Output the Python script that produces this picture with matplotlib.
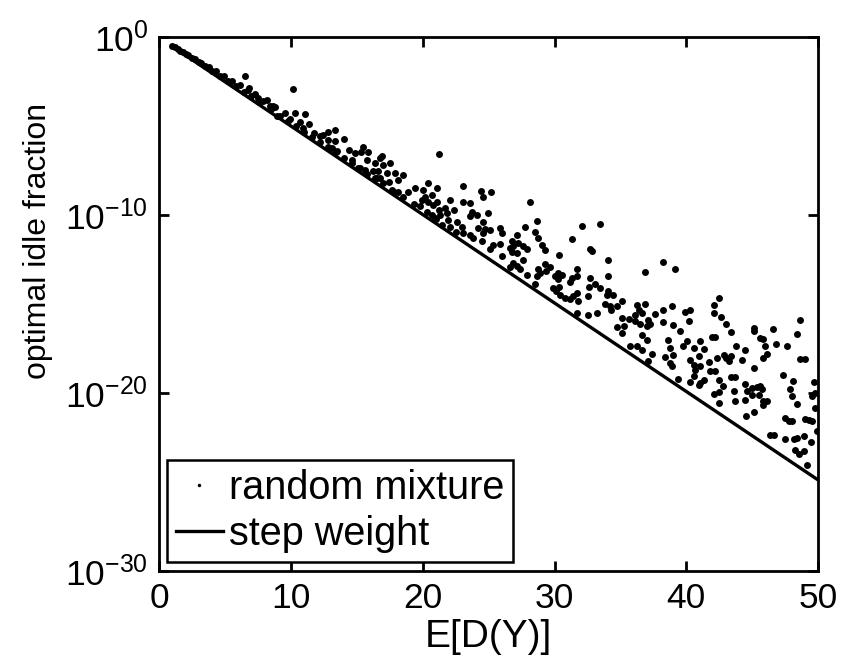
import numpy as np
import matplotlib
matplotlib.use("Agg")
import matplotlib.pyplot as plt

plt.rcParams['font.family'] = ['Liberation Sans', 'DejaVu Sans']
plt.rcParams['mathtext.fontset'] = 'custom'
plt.rcParams['mathtext.rm'] = 'Liberation Sans'
plt.rcParams['mathtext.it'] = 'Liberation Sans:italic'

# step weight curve (log10 of idle fraction at the two ends)
step_x = [1, 50]
step_exp = [-0.55, -24.9]

# random mixture points: E[D(Y)] and log10(optimal idle fraction)
x_a = [1.0, 1.2, 1.4, 1.6, 1.8, 2.0, 2.2, 2.5, 2.7, 3.0, 3.2, 3.5, 3.8, 4.0, 4.3,
       4.6, 4.9, 5.2, 5.5, 5.8, 6.1, 6.4, 6.7, 7.0, 7.3, 7.6, 7.9, 8.2, 8.5, 8.8,
       6.52, 6.78, 7.52, 8.4]
e_a = [-0.50, -0.60, -0.67, -0.80, -0.85, -0.98, -1.02, -1.21, -1.24, -1.44, -1.46, -1.67, -1.72, -1.94, -1.94,
       -2.19, -2.19, -2.51, -2.48, -2.75, -2.73, -3.08, -2.98, -3.33, -3.23, -3.68, -3.63, -3.58, -4.07, -3.97,
       -2.23, -2.89, -3.46, -3.92]

x_b = [10.13, 8.61, 9.55, 10.3, 11.06, 8.91, 9.92, 10.68, 11.39, 10.93, 12.83, 13.34, 11.71, 12.2, 12.45,
       12.83, 13.34, 14.02, 13.09, 13.47, 14.43, 14.86, 15.49, 15.3, 15.87, 14.61, 15.75, 15.11, 15.62, 16.25,
       16.5, 16.76,
       9.2, 9.8, 10.4, 11.0, 11.6, 12.2, 12.8, 13.4, 14.0, 14.6, 15.2, 15.8, 16.4]
e_b = [-2.96, -3.88, -4.29, -4.29, -4.33, -4.48, -4.64, -4.77, -4.90, -5.14, -5.33, -5.22, -5.41, -5.6, -5.5,
       -5.79, -5.88, -5.75, -6.26, -6.44, -6.39, -6.55, -6.21, -6.5, -6.5, -6.93, -6.95, -7.38, -7.48, -7.57,
       -7.96, -6.82,
       -4.45, -4.75, -5.0, -5.35, -5.62, -5.92, -6.2, -6.5, -6.8, -7.1, -7.4, -7.7, -7.95]

x_c = [21.27, 16.89, 16.38, 17.0, 17.5, 16.63, 17.27, 17.9, 18.53, 16.76, 17.4, 18.15, 17.65, 18.15, 18.91,
       19.42, 20.05, 20.43, 21.07, 20.18, 20.69, 19.92, 19.8, 20.43, 20.81, 21.07, 22.07, 23.04, 21.2, 21.71,
       22.34, 20.69, 21.32, 21.82, 20.94, 21.45, 21.95, 22.07, 22.58, 22.96, 23.08, 23.59, 23.72, 23.59, 23.08,
       23.59, 23.84, 24.22, 24.4,
       17.0, 17.8, 18.5, 19.3, 20.3, 21.0, 22.5]
e_c = [-6.57, -6.69, -7.1, -7.2, -7.1, -7.57, -7.66, -7.63, -7.75, -7.94, -8.15, -8.05, -8.6, -8.7, -8.7,
       -8.5, -8.6, -8.22, -8.5, -8.99, -8.89, -9.17, -9.51, -9.26, -9.45, -9.26, -9.17, -8.38, -9.74, -9.63,
       -9.74, -10.01, -10.01, -9.9, -10.2, -10.58, -10.3, -10.67, -10.39, -10.67, -9.26, -9.36, -9.83, -10.1, -11.03,
       -11.13, -11.32, -10.76, -8.69,
       -8.2, -8.75, -9.0, -9.4, -9.85, -10.25, -10.95]

x_d = [25.16, 24.56, 28.15, 24.1, 24.98, 24.6, 28.7, 24.73, 25.11, 25.87, 26.0, 24.6, 24.48, 27.78, 27.14,
       28.52, 28.78, 31.31, 25.36, 25.11, 25.87, 26.76, 26.63, 26.88, 27.26, 27.64, 27.9, 29.04, 29.29, 26.76,
       27.14, 26.0, 27.64, 30.37, 26.88, 26.63, 27.14, 27.39, 28.78, 29.29, 29.67, 28.91, 28.65, 27.9, 29.37,
       28.52, 30.05, 30.3, 30.56, 30.3, 31.69, 31.31, 31.18, 31.69, 29.92, 30.37, 30.12, 30.42, 30.8, 31.18,
       31.43, 31.69, 31.82, 31.69]
e_d = [-8.75, -9.01, -9.27, -10.01, -9.89, -10.39, -10.33, -10.81, -10.85, -10.75, -11.0, -11.04, -11.5, -10.71, -11.13,
       -10.95, -11.32, -11.38, -11.7, -11.94, -11.65, -11.5, -11.88, -11.78, -11.59, -11.74, -11.93, -11.69, -11.97, -12.08,
       -12.17, -12.32, -12.53, -12.25, -12.71, -12.94, -12.9, -13.05, -13.05, -12.75, -12.94, -13.28, -13.43, -13.37, -13.19,
       -13.89, -13.46, -13.28, -13.37, -13.62, -13.05, -13.56, -13.8, -13.46, -14.13, -14.06, -14.31, -14.49, -14.68, -14.74,
       -14.55, -14.4, -14.87, -15.53]

x_e = [32.07, 33.46, 32.7, 32.83, 34.09, 38.22, 39.15, 36.87, 34.09, 32.7, 33.08, 32.65, 33.46, 34.09, 33.96,
       34.47, 32.58, 35.11, 33.84, 34.22, 34.73, 34.27, 36.25, 36.87, 36.38, 36.63, 36.12, 38.27, 38.9, 37.64,
       39.92, 33.2, 32.58, 40.3, 35.11, 35.62, 36.12, 37.13, 36.5, 37.27, 35.24, 34.73, 38.27, 39.03, 37.01,
       40.18, 35.11, 36.63, 39.54, 37.01, 38.65, 40.06, 35.74, 36.25, 36.63, 38.78, 39.79, 37.39, 38.4, 39.03,
       37.13, 38.78, 38.9, 40.3, 39.41, 40.3]
e_e = [-10.62, -10.51, -11.93, -12.06, -12.53, -12.68, -13.05, -13.24, -13.43, -13.56, -13.88, -14.06, -14.12, -14.31, -14.49,
       -14.49, -14.59, -14.87, -15.0, -15.11, -15.15, -15.34, -15.06, -15.0, -15.34, -15.52, -15.62, -15.34, -15.11, -15.58,
       -15.49, -15.52, -15.62, -15.34, -15.8, -15.86, -16.0, -15.9, -16.12, -16.12, -16.24, -16.31, -16.05, -16.18, -16.27,
       -16.0, -16.65, -16.74, -16.56, -17.02, -17.02, -17.12, -17.4, -17.4, -17.58, -17.49, -17.4, -17.83, -18.0, -17.87,
       -18.24, -18.33, -18.48, -18.19, -19.25, -19.42]

x_f = [42.47, 42.09, 42.14, 42.6, 42.98, 48.65, 45.11, 45.16, 46.57, 48.4, 43.39, 41.95, 42.2, 41.06, 45.61,
       45.86, 45.99, 46.82, 47.63, 43.8, 40.55, 41.31, 44.47, 40.93, 42.84, 42.98, 43.36, 42.32, 41.69, 43.21,
       44.22, 45.81, 46.16, 48.65, 49.03, 40.55, 41.06, 45.11, 40.68, 41.82, 42.2, 47.38, 40.55, 43.36, 43.69,
       41.31, 42.47, 41.06, 40.93, 44.47, 42.76, 44.99, 45.37, 45.61, 45.74, 47.89, 48.14, 49.66, 43.6, 44.6,
       44.99, 45.5, 42.09, 42.47, 48.02, 49.54, 49.79, 43.72, 44.47, 45.86, 46.12, 48.4, 42.47, 45.81, 49.79,
       45.11, 44.55, 47.51, 47.77, 48.02, 49.03, 49.29, 49.54, 49.92, 46.39, 46.64, 47.53, 48.17, 48.42, 48.97,
       49.48, 48.27, 48.52, 48.97, 49.16]
e_f = [-14.69, -15.06, -15.53, -15.75, -16.12, -15.9, -16.37, -16.52, -16.43, -16.69, -16.61, -16.87, -16.87, -17.12, -16.93,
       -16.99, -17.4, -17.25, -17.4, -17.36, -17.49, -17.55, -17.62, -17.96, -17.87, -18.05, -17.96, -18.05, -18.3, -18.24,
       -18.15, -18.05, -17.81, -18.11, -18.11, -18.43, -18.52, -18.61, -18.75, -18.8, -18.8, -18.99, -19.04, -19.12, -19.12,
       -19.31, -19.31, -19.47, -19.56, -19.5, -19.65, -19.74, -19.68, -19.61, -19.8, -19.8, -19.37, -19.42, -19.93, -19.93,
       -20.11, -20.11, -20.06, -19.98, -20.21, -20.21, -20.03, -20.49, -20.43, -20.49, -20.49, -20.62, -20.58, -20.67, -20.86,
       -21.11, -21.33, -21.42, -21.61, -21.61, -21.48, -21.56, -21.61, -22.17, -22.36, -22.4, -22.6, -22.6, -22.55, -22.42,
       -22.79, -23.24, -23.43, -23.3, -24.06]

mix_x = np.array(x_a + x_b + x_c + x_d + x_e + x_f)
mix_y = 10.0 ** np.array(e_a + e_b + e_c + e_d + e_e + e_f)
step_y = 10.0 ** np.array(step_exp)

fig = plt.figure(figsize=(8.44, 6.57), dpi=100)
ax = fig.add_axes([0.1887, 0.1314, 0.7805, 0.8127])

ax.plot(mix_x, mix_y, 'o', color='black', markersize=5, markeredgewidth=0,
        linestyle='none', label='random mixture')
ax.plot(step_x, step_y, '-', color='black', linewidth=2.4, label='step weight')

ax.set_yscale('log')
ax.set_xlim(0, 50)
ax.set_ylim(1e-30, 1e0)
ax.set_xticks([0, 10, 20, 30, 40, 50])
ax.set_yticks([1e0, 1e-10, 1e-20, 1e-30])
ax.minorticks_off()
ax.tick_params(direction='in', length=7, width=2, top=True, right=True,
               labelsize=25.5, pad=8)
for s in ax.spines.values():
    s.set_linewidth(2)

ax.set_xlabel('E[D(Y)]', fontsize=28)
ax.xaxis.set_label_coords(0.5, -0.09)
ax.set_ylabel('optimal idle fraction', fontsize=23)
ax.yaxis.set_label_coords(-0.162, 0.617)

leg = ax.legend(loc='lower left', bbox_to_anchor=(0.0117, 0.0169), borderaxespad=0,
                fontsize=28.5, fancybox=False, edgecolor='black', framealpha=1,
                handlelength=1.2, handletextpad=0.15, labelspacing=0.2,
                borderpad=0.22, markerscale=0.5)
leg.get_frame().set_linewidth(1.8)

fig.savefig('out.png', dpi=100)
